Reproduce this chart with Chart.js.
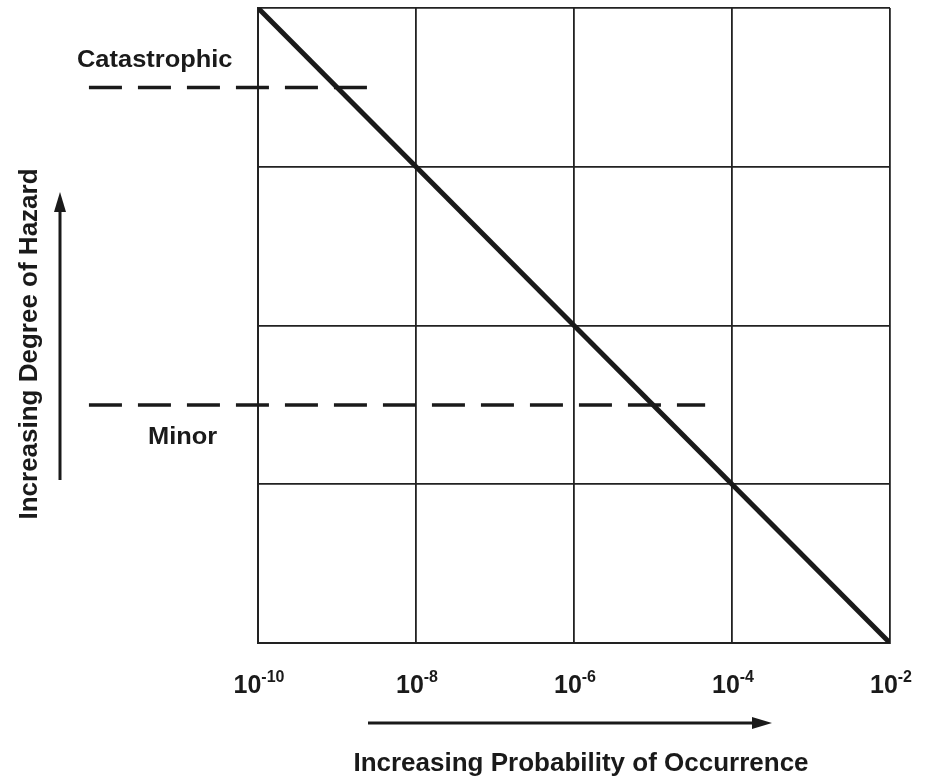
<!DOCTYPE html>
<html>
<head>
<meta charset="utf-8">
<script src="https://cdn.jsdelivr.net/npm/chart.js@4.4.0/dist/chart.umd.min.js"></script>
<style>
html, body { margin: 0; padding: 0; background: #fff; }
</style>
</head>
<body>
<canvas id="riskChart" width="932" height="777"></canvas>
<script>
// probability axis: exponents of ten
const tickExps = [-10, -8, -6, -4, -2];
const hazardLevels = [0, 1, 2, 3, 4];

// risk boundary line
const riskX = [-10, -2];
const riskY = [4, 0];

// dashed hazard levels
const catastrophicX = [-12.14, -8.62];
const catastrophicY = [3.5, 3.5];
const minorX = [-12.14, -4.34];
const minorY = [1.5, 1.5];

const xTitle = "Increasing Probability of Occurrence";
const yTitle = "Increasing Degree of Hazard";
const catLabel = "Catastrophic";
const minorLabel = "Minor";

const ink = "#1a1a1a";
const FONT = '"Liberation Sans", Arial, sans-serif';

function pts(xs, ys) {
    return xs.map((x, i) => ({ x: x, y: ys[i] }));
}

function wideText(ctx, text, x, y, size, sx, align, base) {
    ctx.save();
    ctx.translate(x, y);
    ctx.scale(sx, 1);
    ctx.font = "bold " + size + "px " + FONT;
    ctx.textAlign = align;
    ctx.textBaseline = base;
    ctx.fillStyle = ink;
    ctx.fillText(text, 0, 0);
    ctx.restore();
}

function arrow(ctx, x1, y1, x2, y2) {
    var ang = Math.atan2(y2 - y1, x2 - x1);
    var len = 20, half = 6;
    ctx.save();
    ctx.strokeStyle = ink;
    ctx.fillStyle = ink;
    ctx.lineWidth = 3;
    ctx.beginPath();
    ctx.moveTo(x1, y1);
    ctx.lineTo(x2 - Math.cos(ang) * len, y2 - Math.sin(ang) * len);
    ctx.stroke();
    ctx.translate(x2, y2);
    ctx.rotate(ang);
    ctx.beginPath();
    ctx.moveTo(0, 0);
    ctx.lineTo(-len, -half);
    ctx.lineTo(-len, half);
    ctx.closePath();
    ctx.fill();
    ctx.restore();
}

const decorations = {
    id: "decorations",
    afterDraw(chart) {
        var ctx = chart.ctx;
        var xs = chart.scales.x, ys = chart.scales.y;

        // tick labels 10^n
        tickExps.forEach(e => {
            var px = xs.getPixelForValue(e);
            ctx.save();
            ctx.fillStyle = ink;
            ctx.textBaseline = "alphabetic";
            ctx.textAlign = "left";
            ctx.font = "bold 25px " + FONT;
            var wBase = ctx.measureText("10").width;
            ctx.font = "bold 16px " + FONT;
            var wExp = ctx.measureText(String(e)).width;
            var left = px - (wBase + wExp) / 2 + 1;
            ctx.font = "bold 25px " + FONT;
            ctx.fillText("10", left, 693);
            ctx.font = "bold 16px " + FONT;
            ctx.fillText(String(e), left + wBase, 682);
            ctx.restore();
        });

        // level labels
        var yCat = ys.getPixelForValue(catastrophicY[0]);
        var yMin = ys.getPixelForValue(minorY[0]);
        wideText(ctx, catLabel, 77, yCat - 27, 24, 1.06, "left", "middle");
        wideText(ctx, minorLabel, 148, yMin + 32, 24, 1.06, "left", "middle");

        // axis titles and arrows
        wideText(ctx, xTitle, 581, 771, 26, 1.0, "center", "alphabetic");
        arrow(ctx, 368, 723, 772, 723);

        ctx.save();
        ctx.translate(37, 344);
        ctx.rotate(-Math.PI / 2);
        wideText(ctx, yTitle, 0, 0, 26, 1.0, "center", "alphabetic");
        ctx.restore();
        arrow(ctx, 60, 480, 60, 192);
    }
};

new Chart(document.getElementById("riskChart"), {
    type: "line",
    data: {
        datasets: [{
            data: pts(riskX, riskY),
            borderColor: ink,
            borderWidth: 5,
            pointRadius: 0,
            tension: 0
        }, {
            data: pts(catastrophicX, catastrophicY),
            borderColor: ink,
            borderWidth: 3.5,
            borderDash: [33, 16],
            pointRadius: 0,
            clip: false
        }, {
            data: pts(minorX, minorY),
            borderColor: ink,
            borderWidth: 3.5,
            borderDash: [33, 16],
            pointRadius: 0,
            clip: false
        }]
    },
    options: {
        responsive: false,
        animation: false,
        devicePixelRatio: 1,
        layout: { padding: { left: 258, right: 42, top: 8, bottom: 134 } },
        plugins: { legend: { display: false }, tooltip: { enabled: false } },
        scales: {
            x: {
                type: "linear",
                min: tickExps[0],
                max: tickExps[tickExps.length - 1],
                afterBuildTicks: s => { s.ticks = tickExps.map(v => ({ value: v })); },
                ticks: { display: false },
                grid: { color: "#222", lineWidth: 1.8, drawTicks: false },
                border: { color: "#222", width: 2 }
            },
            y: {
                type: "linear",
                min: hazardLevels[0],
                max: hazardLevels[hazardLevels.length - 1],
                afterBuildTicks: s => { s.ticks = hazardLevels.map(v => ({ value: v })); },
                ticks: { display: false },
                grid: { color: "#222", lineWidth: 1.8, drawTicks: false },
                border: { color: "#222", width: 2 }
            }
        }
    },
    plugins: [decorations]
});
</script>
</body>
</html>
